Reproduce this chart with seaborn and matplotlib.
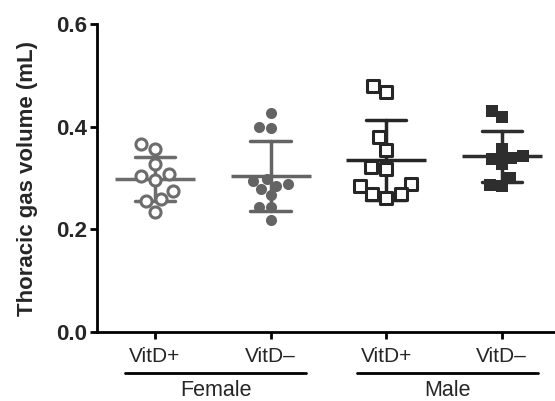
import numpy as np
import pandas as pd
import matplotlib.pyplot as plt
import seaborn as sns

# values (mL)
groups = ['F_VitD+', 'F_VitD-', 'M_VitD+', 'M_VitD-']
tick_labels = ['VitD+', 'VitD\u2013', 'VitD+', 'VitD\u2013']
fem_pos = [0.366, 0.356, 0.327, 0.308, 0.304, 0.297, 0.275, 0.259, 0.256, 0.234]
fem_neg = [0.427, 0.400, 0.398, 0.298, 0.295, 0.288, 0.285, 0.279, 0.266, 0.243, 0.243, 0.219]
male_pos = [0.480, 0.467, 0.379, 0.355, 0.321, 0.317, 0.288, 0.285, 0.269, 0.269, 0.262]
male_neg = [0.430, 0.419, 0.357, 0.343, 0.340, 0.338, 0.327, 0.301, 0.286, 0.285]

series = [fem_pos, fem_neg, male_pos, male_neg]
df = pd.concat([pd.DataFrame({'group': g, 'tgv': v}) for g, v in zip(groups, series)],
               ignore_index=True)

colors = ['#6c6c6c', '#646464', '#262626', '#2e2e2e']
markers = ['o', 'o', 's', 's']
filled = [False, True, False, True]

sns.set_style('ticks')
plt.rcParams['font.family'] = ['Liberation Sans', 'DejaVu Sans']

fig = plt.figure(figsize=(5.55, 4.01), dpi=100)
ax = fig.add_axes([0.175, 0.172, 0.825, 0.768])

for g, c, m, f in zip(groups, colors, markers, filled):
    sub = df[df['group'] == g]
    # mean and SD
    sns.pointplot(data=sub, x='group', y='tgv', order=groups, errorbar='sd',
                  color=c, markers='_', markersize=58, markeredgewidth=2.5,
                  linestyles='none', capsize=0.35, err_kws={'linewidth': 2.5},
                  ax=ax, zorder=2)
    if f:
        sns.swarmplot(data=sub, x='group', y='tgv', order=groups, color=c,
                      marker=m, size=8, linewidth=0, ax=ax, zorder=3)
    else:
        sns.swarmplot(data=sub, x='group', y='tgv', order=groups, color='white',
                      edgecolor=c, marker=m, size=8, linewidth=2.2, ax=ax, zorder=3)

ax.set_xlim(-0.5, 3.46)
ax.set_ylim(0, 0.6)
ax.set_yticks([0.0, 0.2, 0.4, 0.6])
ax.set_yticklabels(['0.0', '0.2', '0.4', '0.6'], fontsize=16, fontweight='bold')
ax.set_xticks(range(4))
ax.set_xticklabels(tick_labels, fontsize=15)
ax.set_xlabel('')
ax.set_ylabel('Thoracic gas volume (mL)', fontsize=16, fontweight='bold')
ax.yaxis.set_label_coords(-0.13, 0.5)
ax.tick_params(axis='both', width=2, length=5, color='black', pad=2)
ax.tick_params(axis='x', pad=6)
for s in ['left', 'bottom']:
    ax.spines[s].set_linewidth(2)
    ax.spines[s].set_color('black')
sns.despine(ax=ax)

# sex group brackets under tick labels
tr = ax.get_xaxis_transform()
for x0, x1, name in [(-0.26, 1.31, 'Female'), (1.75, 3.31, 'Male')]:
    ax.plot([x0, x1], [-0.133, -0.133], color='black', linewidth=2,
            transform=tr, clip_on=False)
    ax.text((x0 + x1) / 2, -0.19, name, transform=tr, ha='center', va='center',
            fontsize=15.5)

fig.savefig('out.png', dpi=100)
